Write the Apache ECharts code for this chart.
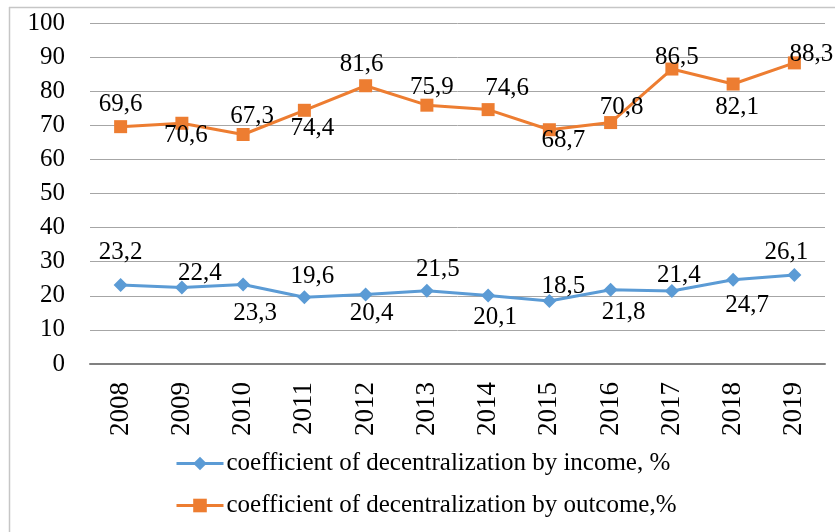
<!DOCTYPE html>
<html><head><meta charset="utf-8">
<script src="https://cdn.jsdelivr.net/npm/echarts@6/dist/echarts.min.js"></script>
<style>html,body{margin:0;padding:0;background:#fff;}#c{width:835px;height:532px;}</style>
</head><body><div id="c"></div>
<script>
const years = ['2008','2009','2010','2011','2012','2013','2014','2015','2016','2017','2018','2019'];
const incomeName = 'coefficient of decentralization by income, %';
const outcomeName = 'coefficient of decentralization by outcome,%';
const incomeValues = [23.2, 22.4, 23.3, 19.6, 20.4, 21.5, 20.1, 18.5, 21.8, 21.4, 24.7, 26.1];
const outcomeValues = [69.6, 70.6, 67.3, 74.4, 81.6, 75.9, 74.6, 68.7, 70.8, 86.5, 82.1, 88.3];
// label placement (offset of label centre from the marker, px)
const incomeLabelOffset = [[0,-32],[18,-14],[12,29],[8,-21],[6,19],[11,-21],[7,22],[14,-14],[13,23],[7,-16],[14,26],[-8,-23]];
const outcomeLabelOffset = [[0,-22],[4,12],[9,-18],[8,18],[-4,-21],[5,-18],[19,-21],[14,11],[11,-15],[5,-12],[4,23],[17,-8]];
const yTicks = [0,10,20,30,40,50,60,70,80,90,100];

const font = 'Liberation Serif';
function fmt(v){ return String(v).replace('.', ','); }
function mk(vals, offs){
  return vals.map((v,i)=>({value:v, label:{position:'inside', offset:offs[i]}}));
}
const chart = echarts.init(document.getElementById('c'));
chart.setOption({
  animation:false,
  textStyle:{fontFamily:font},
  graphic:[
    {type:'line', shape:{x1:9,y1:7.5,x2:835,y2:7.5}, style:{stroke:'#c6c6c6', lineWidth:1.5}},
    {type:'line', shape:{x1:9.5,y1:7,x2:9.5,y2:532}, style:{stroke:'#c6c6c6', lineWidth:1.5}}
  ],
  grid:{left:90, right:10, top:23, bottom:168},
  legend:{
    orient:'vertical', left:175, top:451, padding:0, itemGap:17, itemWidth:47, itemHeight:17,
    lineStyle:{width:3},
    textStyle:{fontFamily:font, fontSize:25, color:'#000', padding:[0,0,0,-2]},
    data:[incomeName, outcomeName]
  },
  xAxis:{
    type:'category', data:years, boundaryGap:true,
    axisLine:{lineStyle:{color:'#808080', width:2}},
    axisTick:{show:false},
    axisLabel:{rotate:90, fontFamily:font, fontSize:27, color:'#000', margin:18, interval:0}
  },
  yAxis:{
    type:'value', min:yTicks[0], max:yTicks[yTicks.length-1], interval:10,
    axisLine:{show:false}, axisTick:{show:false},
    splitLine:{lineStyle:{color:'#a6a6a6', width:1}},
    axisLabel:{fontFamily:font, fontSize:25, color:'#000', margin:25}
  },
  series:[
    {name:incomeName, type:'line', data:mk(incomeValues, incomeLabelOffset),
     symbol:'diamond', symbolSize:14, lineStyle:{width:3, color:'#5B9BD5'},
     itemStyle:{color:'#5B9BD5'}, z:3,
     label:{show:true, fontFamily:font, fontSize:25, color:'#000',
       formatter:p=>fmt(p.value)}},
    {name:outcomeName, type:'line', data:mk(outcomeValues, outcomeLabelOffset),
     symbol:'rect', symbolSize:13, lineStyle:{width:3, color:'#ED7D31'},
     itemStyle:{color:'#ED7D31'}, z:3,
     label:{show:true, fontFamily:font, fontSize:25, color:'#000',
       formatter:p=>fmt(p.value)}}
  ]
});
</script></body></html>
